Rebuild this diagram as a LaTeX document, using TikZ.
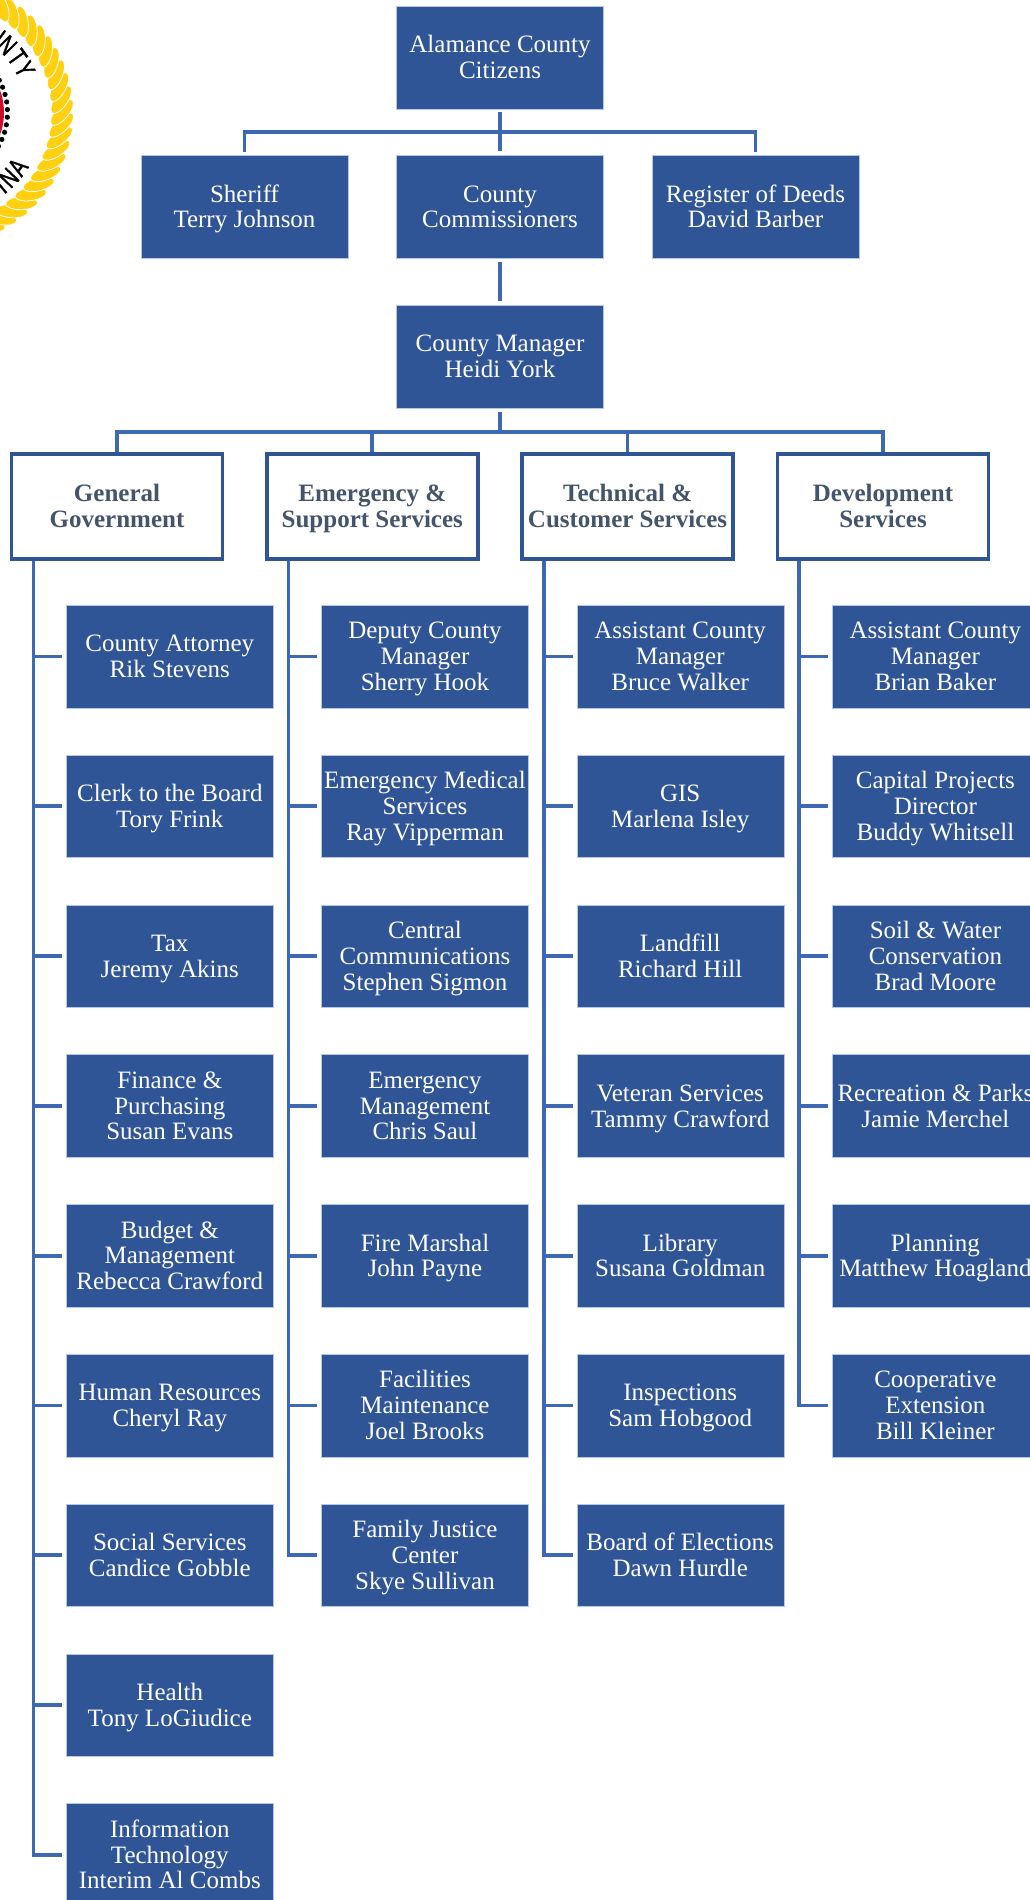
\documentclass[tikz,border=0pt]{standalone}
\usepackage{fontspec}
\setmainfont{Liberation Serif}
\newfontfamily\logofont[FakeStretch=0.72,FakeBold=1.2]{Liberation Sans}
\definecolor{boxblue}{HTML}{2F5597}
\definecolor{linkblue}{HTML}{3F68B2}
\definecolor{catgrey}{HTML}{44546A}
\definecolor{edgeblue}{HTML}{B4C7E7}
\definecolor{rope}{HTML}{FFD010}
\definecolor{sealred}{HTML}{C8102E}
\newcommand\fs{\rule{0pt}{24.4pt}}
\newcommand\ls{\rule[-8pt]{0pt}{8pt}}
\tikzset{
  orgbox/.style={rectangle,fill=boxblue,draw=edgeblue,line width=0.4pt,text=white,minimum width=207pt,minimum height=102.5pt,inner sep=0pt,align=center,font=\fontsize{25}{25.8}\selectfont},
  catbox/.style={rectangle,fill=white,draw=boxblue,line width=3.6pt,text=catgrey,minimum width=211pt,minimum height=105.5pt,inner sep=0pt,align=center,font=\fontsize{25}{25.8}\selectfont\bfseries},
  conn/.style={draw=linkblue,line width=3.7pt},
  sealtext/.style={inner sep=0pt,text=black,font=\logofont\fontsize{27}{27}\selectfont}
}
\newcommand\leafbox[4]{%
  \node[orgbox] (#1) at ({169.8+255.2*#2},{-656.5-149.8*#3}) {\fs #4\ls};
  \draw[conn,shorten >=4pt] (trunk#2) |- (#1.west);
}
\begin{document}
\begin{tikzpicture}[x=1pt,y=1pt]
\useasboundingbox (0,0) rectangle (1029,-1900);
% seal
\begin{scope}
\clip (0,0) rectangle (1029,-1900);
\fill[rope,even odd rule] (-60,-112.5) circle (130.5) circle (113.5);
\foreach \a in {-180,-174,...,180} {
  \filldraw[fill=rope,draw=white,line width=0.8pt,rotate around={\a+50:({-60+122*cos(\a)},{-112.5+122*sin(\a)})}]
    ({-60+122*cos(\a)},{-112.5+122*sin(\a)}) ellipse (16 and 6.5);
}
\fill[sealred] (-60,-112.5) circle (64);
\foreach \a in {-30,-23.5,...,30} {
  \fill[black] ({-60+67.5*cos(\a)},{-112.5+67.5*sin(\a)}) circle (2.6);
}
\foreach \l/\a in {O/64,U/54,N/45,T/35.5,Y/27} {
  \node[sealtext,rotate=\a-90] (seal\l) at ({-60+95*cos(\a)},{-112.5+95*sin(\a)}) {\l};
}
\foreach \l/\a/\k in {L/-58/a,I/-50.5/b,N/-43.5/c,A/-35/d} {
  \node[sealtext,rotate=\a+90] (seal\k) at ({-60+95*cos(\a)},{-112.5+95*sin(\a)}) {\l};
}
\end{scope}
% top
\node[orgbox] (citizens) at (500,-57.5) {\fs Alamance County\\Citizens\ls};
\node[orgbox] (sheriff) at (244.5,-206.7) {\fs Sheriff\\Terry Johnson\ls};
\node[orgbox] (commissioners) at (500,-206.7) {\fs County\\Commissioners\ls};
\node[orgbox] (register) at (755.5,-206.7) {\fs Register of Deeds\\David Barber\ls};
\node[orgbox] (manager) at (500,-356.5) {\fs County Manager\\Heidi York\ls};
\coordinate (topbus) at (500,-132);
\coordinate (midbus) at (500,-432);
\draw[conn,shorten <=3pt,shorten >=4pt] (citizens.south) -- (commissioners.north);
\draw[conn,shorten >=3pt] (topbus) -| (sheriff.north);
\draw[conn,shorten >=3pt] (topbus) -| (register.north);
\draw[conn,shorten <=4pt,shorten >=4pt] (commissioners.south) -- (manager.north);
\draw[conn,shorten <=4pt] (manager.south) -- (midbus);
% categories
\node[catbox] (cat0) at (117,-506.5) {\fs General\\Government\ls};
\node[catbox] (cat1) at (372.3,-506.5) {\fs Emergency \&\\Support Services\ls};
\node[catbox] (cat2) at (627.6,-506.5) {\fs Technical \&\\Customer Services\ls};
\node[catbox] (cat3) at (883,-506.5) {\fs Development\\Services\ls};
\foreach \c in {0,1,2,3} {
  \draw[conn] (midbus) -| (cat\c.north);
  \coordinate (trunk\c) at ({33.5+255.1*\c},-561);
}
% General Government
\leafbox{a0}{0}{0}{County Attorney\\Rik Stevens}
\leafbox{a1}{0}{1}{Clerk to the Board\\Tory Frink}
\leafbox{a2}{0}{2}{Tax\\Jeremy Akins}
\leafbox{a3}{0}{3}{Finance \&\\Purchasing\\Susan Evans}
\leafbox{a4}{0}{4}{Budget \&\\Management\\Rebecca Crawford}
\leafbox{a5}{0}{5}{Human Resources\\Cheryl Ray}
\leafbox{a6}{0}{6}{Social Services\\Candice Gobble}
\leafbox{a7}{0}{7}{Health\\Tony LoGiudice}
\leafbox{a8}{0}{8}{Information\\Technology\\Interim Al Combs}
% Emergency & Support
\leafbox{b0}{1}{0}{Deputy County\\Manager\\Sherry Hook}
\leafbox{b1}{1}{1}{Emergency Medical\\Services\\Ray Vipperman}
\leafbox{b2}{1}{2}{Central\\Communications\\Stephen Sigmon}
\leafbox{b3}{1}{3}{Emergency\\Management\\Chris Saul}
\leafbox{b4}{1}{4}{Fire Marshal\\John Payne}
\leafbox{b5}{1}{5}{Facilities\\Maintenance\\Joel Brooks}
\leafbox{b6}{1}{6}{Family Justice\\Center\\Skye Sullivan}
% Technical & Customer
\leafbox{c0}{2}{0}{Assistant County\\Manager\\Bruce Walker}
\leafbox{c1}{2}{1}{GIS\\Marlena Isley}
\leafbox{c2}{2}{2}{Landfill\\Richard Hill}
\leafbox{c3}{2}{3}{Veteran Services\\Tammy Crawford}
\leafbox{c4}{2}{4}{Library\\Susana Goldman}
\leafbox{c5}{2}{5}{Inspections\\Sam Hobgood}
\leafbox{c6}{2}{6}{Board of Elections\\Dawn Hurdle}
% Development
\leafbox{d0}{3}{0}{Assistant County\\Manager\\Brian Baker}
\leafbox{d1}{3}{1}{Capital Projects\\Director\\Buddy Whitsell}
\leafbox{d2}{3}{2}{Soil \& Water\\Conservation\\Brad Moore}
\leafbox{d3}{3}{3}{Recreation \& Parks\\Jamie Merchel}
\leafbox{d4}{3}{4}{Planning\\Matthew Hoagland}
\leafbox{d5}{3}{5}{Cooperative\\Extension\\Bill Kleiner}
\end{tikzpicture}
\end{document}
